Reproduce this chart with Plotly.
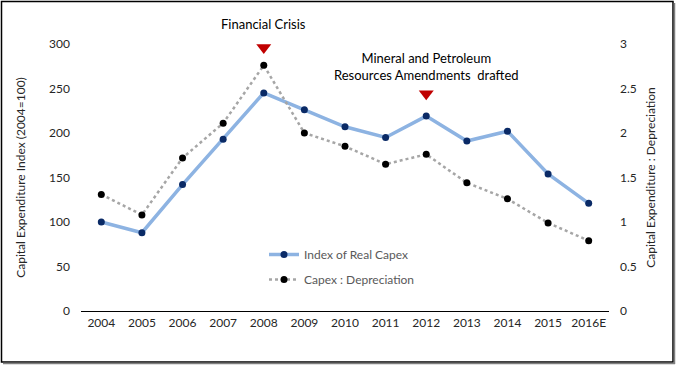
import plotly.graph_objects as go

years = ["2004", "2005", "2006", "2007", "2008", "2009", "2010", "2011", "2012", "2013", "2014", "2015", "2016E"]
capex_index = [100, 88, 142, 193, 245, 226, 207, 195, 219, 191, 202, 154, 121]
capex_dep = [1.31, 1.08, 1.72, 2.11, 2.76, 2.00, 1.85, 1.65, 1.76, 1.44, 1.26, 0.99, 0.79]
event_years = ["2008", "2012"]
event_levels = [296, 244]
event_labels = ["Financial Crisis", "Mineral and Petroleum<br>Resources Amendments  drafted"]
left_ticks = [0, 50, 100, 150, 200, 250, 300]
right_ticks = [0, 0.5, 1, 1.5, 2, 2.5, 3]

FONT = "Lato"
W, H = 676, 365
L, R, T, B = 81, 67, 44, 54
pw, ph = W - L - R, H - T - B

def px(x):
    return (x - L) / pw

def py(y):
    return (H - B - y) / ph

xi = list(range(len(years)))
ev_x = [years.index(y) for y in event_years]

fig = go.Figure()
fig.add_trace(go.Scatter(
    x=xi, y=capex_index, name="Index of Real Capex", mode="lines+markers",
    line=dict(color="#8DB3E2", width=3.5), marker=dict(color="#0A2A66", size=7),
    legendgroup="a", yaxis="y"))
fig.add_trace(go.Scatter(
    x=xi, y=capex_dep, name="Capex : Depreciation", mode="lines+markers",
    line=dict(color="#A6A6A6", width=2.5, dash="dot"), marker=dict(color="#000000", size=7),
    legendgroup="b", yaxis="y2"))
fig.add_trace(go.Scatter(
    x=ev_x, y=event_levels, mode="markers", showlegend=False, hoverinfo="skip",
    marker=dict(symbol="triangle-down", color="#C00000", size=13), yaxis="y"))

for xv, lvl, lab, sh in zip(ev_x, event_levels, event_labels, [24, 27]):
    fig.add_annotation(x=xv, y=lvl, xref="x", yref="y", text=lab, showarrow=False,
                       yanchor="middle", yshift=sh,
                       font=dict(family=FONT, size=13, color="#000000"))

fig.add_shape(type="rect", xref="paper", yref="paper",
              x0=px(1.5), x1=px(673), y0=py(362), y1=py(1.5),
              line=dict(color="#000000", width=1.5))
fig.add_shape(type="line", xref="paper", yref="paper",
              x0=px(674.5), x1=px(674.5), y0=py(364), y1=py(3),
              line=dict(color="#7F7F7F", width=1.5))
fig.add_shape(type="line", xref="paper", yref="paper",
              x0=px(3), x1=px(675), y0=py(363.5), y1=py(363.5),
              line=dict(color="#7F7F7F", width=1.5))

fig.update_layout(
    template="none",
    width=W, height=H, margin=dict(l=L, r=R, t=T, b=B, autoexpand=False),
    paper_bgcolor="white", plot_bgcolor="white",
    font=dict(family=FONT, size=12, color="#262626"),
    xaxis=dict(range=[-0.5, len(years) - 0.5], tickvals=xi, ticktext=years,
               showgrid=False, showline=True, linecolor="#000000", linewidth=1.2,
               ticks="", tickfont=dict(size=12), zeroline=False, automargin=False),
    yaxis=dict(range=[0, 300], tickvals=left_ticks, showgrid=False, zeroline=False,
               showline=False, ticks="", ticklabelstandoff=10, automargin=False,
               title=dict(text="Capital Expenditure Index (2004=100)", standoff=20,
                          font=dict(size=12))),
    yaxis2=dict(range=[0, 3], tickvals=right_ticks, overlaying="y", side="right",
                showgrid=False, zeroline=False, showline=False, ticks="", ticklabelstandoff=10,
                automargin=False,
                title=dict(text="Capital Expenditure : Depreciation", standoff=10,
                           font=dict(size=12))),
    legend=dict(x=px(264), y=py(240), xanchor="left", yanchor="top", bgcolor="rgba(0,0,0,0)",
                font=dict(size=12, color="#595959"), tracegroupgap=6, traceorder="grouped"),
    showlegend=True,
)

fig.write_html("out.html", config={"displayModeBar": False},
               post_script="document.body.style.margin='0';")
